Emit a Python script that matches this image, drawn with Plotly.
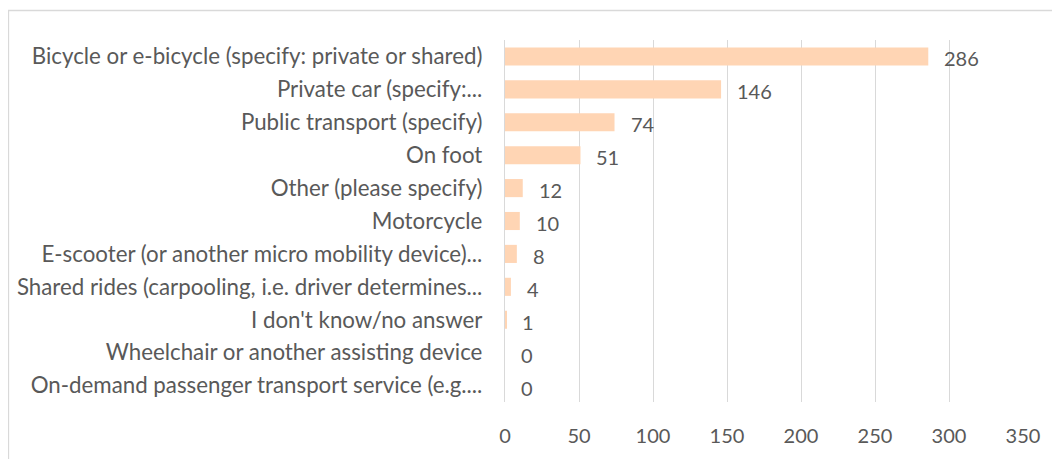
import plotly.graph_objects as go

categories = [
    "Bicycle or e-bicycle (specify: private or shared)",
    "Private car (specify:...",
    "Public transport (specify)",
    "On foot",
    "Other (please specify)",
    "Motorcycle",
    "E-scooter (or another micro mobility device)...",
    "Shared rides (carpooling, i.e. driver determines...",
    "I don't know/no answer",
    "Wheelchair or another assisting device",
    "On-demand passenger transport service (e.g....",
]
values = [286, 146, 74, 51, 12, 10, 8, 4, 1, 0, 0]
tick_vals = [0, 50, 100, 150, 200, 250, 300, 350]

FONT = "Lato"
GRAY = "#595959"
OFF = 8  # page body margin

fig = go.Figure()
fig.add_trace(go.Bar(
    y=categories, x=values, orientation="h",
    marker=dict(color="#FFD5B4", line=dict(width=0)),
    width=0.55, hoverinfo="x+y",
))

annotations = [
    dict(x=v, y=c, xref="x", yref="y", text=str(v), showarrow=False,
         xanchor="left", xshift=14, yshift=-2, font=dict(family=FONT, size=20, color=GRAY))
    for c, v in zip(categories, values)
]

W, H = 1060 - OFF, 459 - OFF
L, R, T, B = 505 - OFF, 1023 - OFF, 40 - OFF, 402 - OFF
def px(x):
    return (x - OFF - L) / (R - L)
def py(y):
    return (B - (y - OFF)) / (B - T)

fig.update_layout(
    width=W, height=H,
    margin=dict(l=L, r=W - R, t=T, b=H - B),
    paper_bgcolor="white", plot_bgcolor="white",
    showlegend=False,
    bargap=0.45,
    font=dict(family=FONT, color=GRAY),
    xaxis=dict(range=[0, 350], tickvals=tick_vals, showgrid=True,
               gridcolor="#D9D9D9", gridwidth=1.3, zeroline=False,
               showline=False, ticks="", tickfont=dict(size=20, color=GRAY),
               ticklabelstandoff=20, automargin=False),
    yaxis=dict(autorange="reversed", showgrid=False, zeroline=False,
               showline=True, linecolor="#D9D9D9", linewidth=1.3,
               ticks="", tickfont=dict(size=22.3, color=GRAY), ticklabelstandoff=17,
               automargin=False),
    annotations=annotations,
    shapes=[dict(type="rect", xref="paper", yref="paper",
                 x0=px(8.5), x1=px(1075), y0=py(475), y1=py(10.5),
                 line=dict(color="#D9D9D9", width=1.3), fillcolor="rgba(0,0,0,0)",
                 layer="below")],
)

fig.write_html("out.html")
